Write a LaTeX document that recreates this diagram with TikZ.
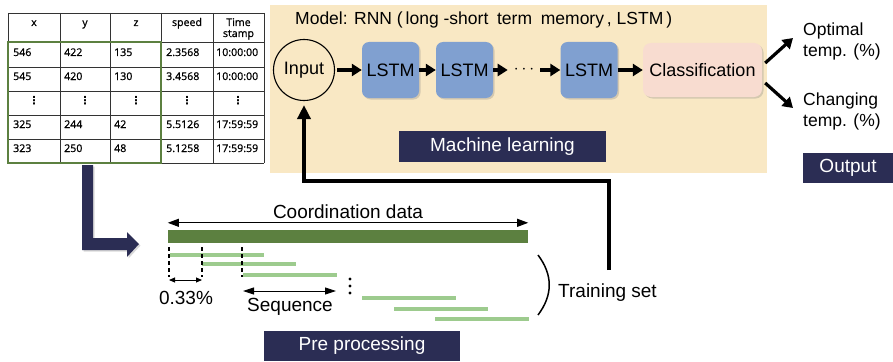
\documentclass[tikz,border=0pt]{standalone}
\usepackage{fontspec}
\setmainfont{Liberation Sans}
\newfontfamily\tablefont{Open Sans}[FakeBold=1]
\newfontfamily\symfont{DejaVu Sans}
\usetikzlibrary{arrows.meta,shadows,positioning}
\definecolor{mlbeige}{RGB}{249,232,196}
\definecolor{lstmblue}{RGB}{128,160,208}
\definecolor{clspink}{RGB}{248,220,208}
\definecolor{navy}{RGB}{43,45,84}
\definecolor{bargreen}{RGB}{92,128,64}
\definecolor{seqgreen}{RGB}{157,203,142}

\begin{document}
\begin{tikzpicture}[x=1pt, y=-1pt,
        every node/.style={font=\fontsize{18}{20}\selectfont},
        tline/.style={draw=black!80, line width=0.8pt},
        tcell/.style={font=\tablefont\fontsize{10.6}{11}\selectfont, inner sep=0pt},
        lstm/.style={fill=lstmblue, rounded corners=7pt, minimum width=57pt, minimum height=56pt, inner sep=0pt,
            drop shadow={shadow xshift=1.5pt, shadow yshift=-1.5pt, opacity=.3}},
        clsbox/.style={fill=clspink, rounded corners=8pt, minimum width=119pt, minimum height=54pt, inner sep=0pt,
            drop shadow={shadow xshift=1.5pt, shadow yshift=-1.5pt, opacity=.3}},
        navybox/.style={fill=navy, text=white, inner sep=0pt, font=\fontsize{19}{21}\selectfont},
        outtext/.style={anchor=west, align=left, inner sep=0pt, font=\fontsize{17.5}{21}\selectfont},
        label/.style={inner sep=0pt, font=\fontsize{19}{21}\selectfont},
        flow/.style={line width=3.2pt, -{Triangle[length=10pt,width=12pt]}},
        feedback/.style={line width=4pt, line join=miter, -{Triangle[length=14pt,width=13pt]}, shorten >=4pt},
        dimarrow/.style={line width=0.9pt, {Triangle[length=11pt,width=8pt]}-{Triangle[length=11pt,width=8pt]}},
        dimsmall/.style={line width=0.9pt, {Triangle[length=6pt,width=5pt]}-{Triangle[length=6pt,width=5pt]}},
        seqline/.style={draw=seqgreen, line width=4.5pt},
        tick/.style={line width=1.6pt, dash pattern=on 4pt off 3pt}
    ]
    \useasboundingbox (0,0) rectangle (893,361);

    % Table of positions
    \foreach \x in {8,60,110,161,213,264}
        \draw[tline] (\x,13) -- (\x,163);
    \foreach \y in {13,42,67,91,115,139,163}
        \draw[tline] (8,\y) -- (264,\y);
    \foreach \cx/\t [count=\j] in {34/x,85/y,136/z,187/speed}
        \node[tcell, anchor=base] (h\j) at (\cx,26) {\t};
    \node[tcell, anchor=base, align=center] (h5) at (238.5,37) {Time\\stamp};
    \foreach \ry/\va/\vb/\vc/\vd/\ve [count=\i] in {56/546/422/135/2.3568/10:00:00, 80/545/420/130/3.4568/10:00:00,
            128/325/244/42/5.5126/17:59:59, 152/323/250/48/5.1258/17:59:59} {
        \foreach \cx/\v [count=\j] in {13/\va,64/\vb,114/\vc,166/\vd,216/\ve}
            \node[tcell, anchor=base west] (d\i\j) at (\cx,\ry) {\v};
    }
    \foreach \cx [count=\j] in {34,85,136,187,238}
        \node[tcell, font=\symfont\bfseries\fontsize{11}{11}\selectfont] (v\j) at (\cx,101) {⋮};
    \draw[draw=bargreen, line width=2.2pt] (8,42) rectangle (161,163);

    % Link from table to the data bar
    \fill[navy, drop shadow={shadow xshift=1.5pt, shadow yshift=-1.5pt, opacity=.3}]
        (82,165) -- (93,165) -- (93,238) -- (127,238) -- (127,232) -- (139,244)
        -- (127,257) -- (127,250) -- (82,250) -- cycle;

    % Model area
    \fill[mlbeige] (270,5) rectangle (767,173);
    \node[anchor=west, inner sep=0pt, font=\fontsize{17.5}{20}\selectfont] (title) at (295,20)
        {Model: RNN (\,long -short\enspace term\enspace memory\,, LSTM\,)};
    \node[circle, draw, line width=1.1pt, minimum size=61pt, inner sep=0pt] (input) at (304,70) {Input};
    \node[lstm] (lstm1) at (390.5,70) {LSTM};
    \node[lstm] (lstm2) at (464.5,70) {LSTM};
    \node[inner sep=0pt] (dots) at (524,70) {$\cdots$};
    \node[lstm] (lstm3) at (589,70) {LSTM};
    \node[clsbox] (cls) at (702.5,70) {Classification};
    \draw[flow, shorten <=2pt] (input) -- (lstm1);
    \draw[flow] (lstm1) -- (lstm2);
    \draw[flow, shorten >=6pt] (lstm2) -- (dots);
    \draw[flow, shorten <=6pt] (dots) -- (lstm3);
    \draw[flow] (lstm3) -- (cls);
    \node[navybox, minimum width=207pt, minimum height=31pt] (ml) at (502.5,146.5) {Machine learning};

    % Output
    \node[outtext] (opt) at (803,41) {Optimal\\temp. (\%)};
    \node[outtext] (chg) at (803,111) {Changing\\temp. (\%)};
    \draw[flow] ([shift={(3,-7)}]cls.east) -- ([shift={(-10,-3)}]opt.west);
    \draw[flow] ([shift={(3,13)}]cls.east) -- ([shift={(-10,-3)}]chg.west);
    \node[navybox, minimum width=90pt, minimum height=30pt] (outlbl) at (848,168) {Output};

    % Pre processing
    \node[label] (cdlbl) at (348,212) {Coordination data};
    \node[fill=bargreen, minimum width=360pt, minimum height=13pt, inner sep=0pt] (bar) at (348,236.5) {};
    \draw[dimarrow] ([yshift=7pt]bar.north west) -- ([yshift=7pt]bar.north east);
    \foreach \xa/\y in {170/255,202/264,243/275,362/298,394/309,435/319}
        \draw[seqline] (\xa,\y) -- ++(94,0);
    \foreach \x [count=\k] in {169,202,242} {
        \coordinate (tk\k) at (\x,277);
        \draw[tick] (\x,247) -- (tk\k);
    }
    \draw[dimsmall] ([yshift=-3pt]tk1) -- ([yshift=-3pt]tk2);
    \node[label] (pct) at (186,298) {0.33\%};
    \coordinate (sqa) at (243,291);
    \coordinate (sqb) at (336,291);
    \draw[line width=0.9pt, {Triangle[length=11pt,width=7pt]}-{Triangle[length=11pt,width=7pt]}] (sqa) -- (sqb);
    \node[label] (seq) at (290,307) {Sequence};
    \foreach \y in {279,286,293}
        \fill (350,\y) circle (1.6pt);
    \draw[line width=1.5pt] (538,255) .. controls (553,275) and (553,295) .. (538,315);
    \node[label, anchor=west] (tset) at (558,293) {Training set};
    \node[navybox, minimum width=196pt, minimum height=30pt] (pre) at (362,346) {Pre processing};

    % Training set back to the input
    \coordinate (fbstart) at (609,270);
    \coordinate (fbturn) at (609,181);
    \draw[feedback] (fbstart) -- (fbturn) -| (input);
\end{tikzpicture}
\end{document}
